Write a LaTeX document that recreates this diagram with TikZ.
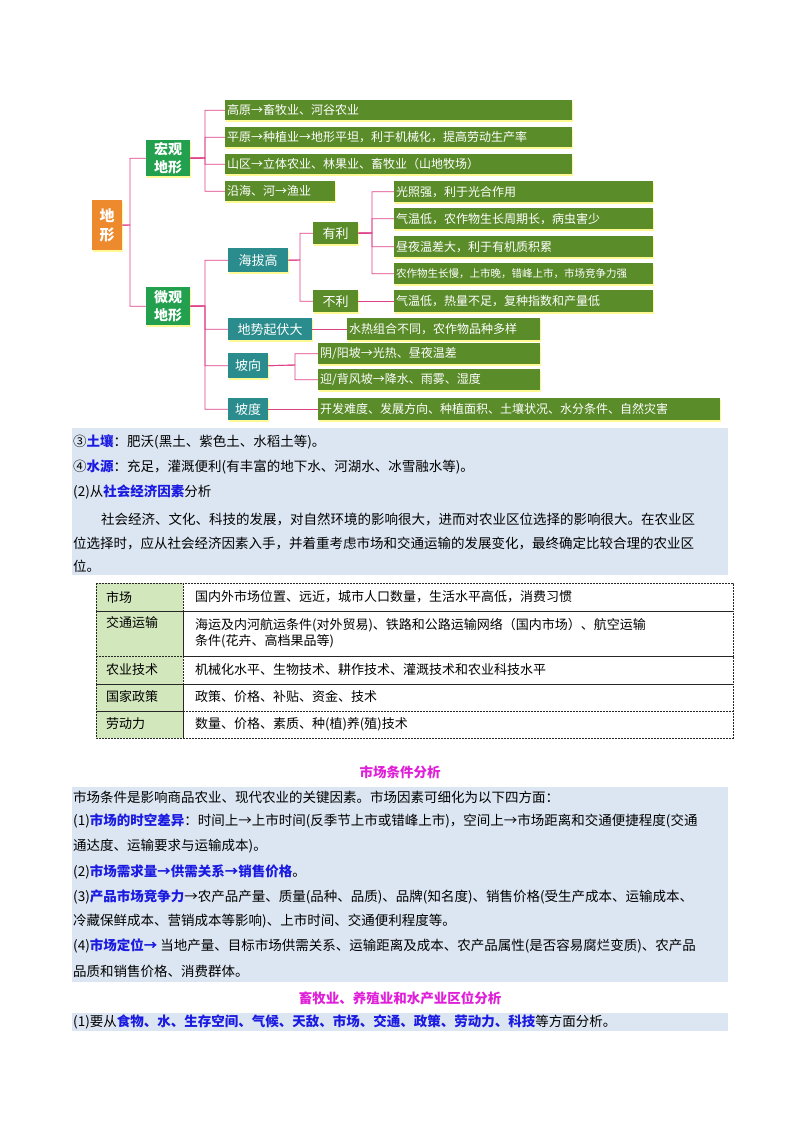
\documentclass[tikz,border=0pt]{standalone}
\usepackage{fontspec}
\setmainfont{Noto Sans CJK SC}
\definecolor{olivebox}{HTML}{5B8C2A}
\definecolor{tealbox}{HTML}{2A8C8C}
\definecolor{greenbox}{HTML}{22A04E}
\definecolor{orangebox}{HTML}{EE8A2E}
\definecolor{pinkline}{HTML}{E0408A}
\definecolor{bandblue}{HTML}{DCE6F2}
\definecolor{tabgreen}{HTML}{D2E7BC}
\definecolor{kwblue}{HTML}{1A1AE0}
\definecolor{titlemag}{HTML}{E020D8}
\newcommand{\kw}[1]{\textcolor{kwblue}{\bfseries #1}}
\tikzset{
 base/.style={anchor=north west, inner sep=2pt, text=white, font=\fontsize{12}{14}\selectfont, align=left, drop shadow={shadow xshift=1pt,shadow yshift=-1.5pt,fill=yellow!60,opacity=.7}},
 ol/.style={base, fill=olivebox},
 te/.style={base, fill=tealbox, font=\fontsize{13}{15}\selectfont},
 gr/.style={base, fill=greenbox, font=\bfseries\fontsize{14}{18}\selectfont, align=center},
 conn/.style={draw=pinkline, line width=0.9pt},
 txt/.style={anchor=west, inner sep=0pt, font=\fontsize{13.5}{16}\selectfont},
 cell/.style={anchor=west, inner sep=0pt, font=\fontsize{13}{16}\selectfont, align=left},
 dbox/.style={draw=black!85, dashed, line width=1pt, dash pattern=on 2pt off 1pt}
}
\usetikzlibrary{shadows}
\begin{document}
\begin{tikzpicture}[x=1pt,y=-1pt]
\useasboundingbox (0,0) rectangle (800,1132);
\fill[white] (0,0) rectangle (800,1132);
% mind map
\node[base, fill=orangebox, font=\bfseries\fontsize{15}{19}\selectfont, minimum width=30, minimum height=50, align=center] (dx) at (92,200) {地\\形};
\node[gr, minimum width=44, minimum height=36] (hg) at (146,140) {宏观\\地形};
\node[gr, minimum width=44, minimum height=38] (wg) at (146,287) {微观\\地形};
\node[ol, minimum width=347, minimum height=20, text width=343] (m1) at (225,100) {高原→畜牧业、河谷农业};
\node[ol, minimum width=347, minimum height=20, text width=343] (m2) at (225,127) {平原→种植业→地形平坦，利于机械化，提高劳动生产率};
\node[ol, minimum width=347, minimum height=20, text width=343] (m3) at (225,154) {山区→立体农业、林果业、畜牧业（山地牧场）};
\node[ol, minimum width=110, minimum height=20, text width=106] (m4) at (225,181) {沿海、河→渔业};
\node[te, minimum width=60, minimum height=24] (hb) at (228,248) {海拔高};
\node[ol, minimum width=45, minimum height=22, font=\fontsize{13}{15}\selectfont] (yl) at (313,222) {有利};
\node[ol, minimum width=45, minimum height=22, font=\fontsize{13}{15}\selectfont] (bl) at (313,290) {不利};
\node[ol, minimum width=259, minimum height=21, text width=255] (y1) at (394,181) {光照强，利于光合作用};
\node[ol, minimum width=259, minimum height=21, text width=255] (y2) at (394,208) {气温低，农作物生长周期长，病虫害少};
\node[ol, minimum width=259, minimum height=21, text width=255] (y3) at (394,236) {昼夜温差大，利于有机质积累};
\node[ol, minimum width=259, minimum height=21, text width=255, font=\fontsize{10.5}{12}\selectfont] (y4) at (394,263) {农作物生长慢，上市晚，错峰上市，市场竞争力强};
\node[ol, minimum width=259, minimum height=22, text width=255] (b1) at (394,290) {气温低，热量不足，复种指数和产量低};
\node[te, minimum width=84, minimum height=22] (ds) at (228,318) {地势起伏大};
\node[ol, minimum width=193, minimum height=22, text width=189] (d1) at (347,318) {水热组合不同，农作物品种多样};
\node[te, minimum width=40, minimum height=25] (px) at (228,353) {坡向};
\node[ol, minimum width=222, minimum height=21, text width=218] (p1) at (318,343) {阴/阳坡→光热、昼夜温差};
\node[ol, minimum width=222, minimum height=21, text width=218] (p2) at (318,369) {迎/背风坡→降水、雨雾、湿度};
\node[te, minimum width=40, minimum height=22] (pd) at (228,398) {坡度};
\node[ol, minimum width=402, minimum height=22, text width=398] (q1) at (318,398) {开发难度、发展方向、种植面积、土壤状况、水分条件、自然灾害};
\draw[conn] (dx.east) -- (130,225) |- (hg.west);
\draw[conn] (dx.east) -- (130,225) |- (wg.west);
\foreach \t in {m1,m2,m3,m4} \draw[conn] (hg.east) -- (205,158) |- (\t.west);
\foreach \t in {hb,ds,px,pd} \draw[conn] (wg.east) -- (205,306) |- (\t.west);
\foreach \t in {yl,bl} \draw[conn] (hb.east) -- (300,260) |- (\t.west);
\foreach \t in {y1,y2,y3,y4} \draw[conn] (yl.east) -- (372,233) |- (\t.west);
\draw[conn] (bl.east) -- (b1.west);
\draw[conn] (ds.east) -- (d1.west);
\foreach \t in {p1,p2} \draw[conn] (px.east) -- (295,365) |- (\t.west);
\draw[conn] (pd.east) -- (q1.west);
% band 1
\fill[bandblue] (72,428) rectangle (728,575);
\node[txt] (l1) at (73,442) {③\kw{土壤}：肥沃(黑土、紫色土、水稻土等)。};
\node[txt] (l2) at (73,467) {④\kw{水源}：充足，灌溉便利(有丰富的地下水、河湖水、冰雪融水等)。};
\node[txt] (l3) at (73,492) {(2)从\kw{社会经济因素}分析};
\node[txt] (l4) at (101,519) {社会经济、文化、科技的发展，对自然环境的影响很大，进而对农业区位选择的影响很大。在农业区};
\node[txt] (l5) at (73,543) {位选择时，应从社会经济因素入手，并着重考虑市场和交通运输的发展变化，最终确定比较合理的农业区};
\node[txt] (l6) at (73,566) {位。};
% table
\fill[tabgreen] (96,583) rectangle (183,738);
\foreach \a/\b in {583/611,611/656,656/684,684/711,711/738}{
 \draw[dbox] (96,\a) rectangle (183,\b);
 \draw[dbox] (183,\a) rectangle (733,\b);
}
\node[cell] (t1a) at (106,597) {市场};
\node[cell] (t1b) at (195,597) {国内外市场位置、远近，城市人口数量，生活水平高低，消费习惯};
\node[cell] (t2a) at (106,623) {交通运输};
\node[cell] (t2b) at (195,633) {海运及内河航运条件(对外贸易)、铁路和公路运输网络（国内市场）、航空运输\\条件(花卉、高档果品等)};
\node[cell] (t3a) at (106,670) {农业技术};
\node[cell] (t3b) at (195,670) {机械化水平、生物技术、耕作技术、灌溉技术和农业科技水平};
\node[cell] (t4a) at (106,697) {国家政策};
\node[cell] (t4b) at (195,697) {政策、价格、补贴、资金、技术};
\node[cell] (t5a) at (106,724) {劳动力};
\node[cell] (t5b) at (195,724) {数量、价格、素质、种(植)养(殖)技术};
% title 2
\node[txt, anchor=center, text=titlemag, font=\bfseries\fontsize{13.5}{16}\selectfont] (h2) at (400,772) {市场条件分析};
\fill[bandblue] (72,787) rectangle (728,982);
\node[txt] (k1) at (73,797) {市场条件是影响商品农业、现代农业的关键因素。市场因素可细化为以下四方面：};
\node[txt] (k2) at (73,821) {(1)\kw{市场的时空差异}：时间上→上市时间(反季节上市或错峰上市)，空间上→市场距离和交通便捷程度(交通};
\node[txt] (k3) at (73,846) {通达度、运输要求与运输成本)。};
\node[txt] (k4) at (73,872) {(2)\kw{市场需求量→供需关系→销售价格}。};
\node[txt] (k5) at (73,897) {(3)\kw{产品市场竞争力}→农产品产量、质量(品种、品质)、品牌(知名度)、销售价格(受生产成本、运输成本、};
\node[txt] (k6) at (73,921) {冷藏保鲜成本、营销成本等影响)、上市时间、交通便利程度等。};
\node[txt] (k7) at (73,946) {(4)\kw{市场定位→} 当地产量、目标市场供需关系、运输距离及成本、农产品属性(是否容易腐烂变质)、农产品};
\node[txt] (k8) at (73,971) {品质和销售价格、消费群体。};
\node[txt, anchor=center, text=titlemag, font=\bfseries\fontsize{13.5}{16}\selectfont] (h3) at (400,998) {畜牧业、养殖业和水产业区位分析};
\fill[bandblue] (72,1013) rectangle (728,1031);
\node[txt] (n1) at (73,1022) {(1)要从\kw{食物、水、生存空间、气候、天敌、市场、交通、政策、劳动力、科技}等方面分析。};
\end{tikzpicture}
\end{document}
